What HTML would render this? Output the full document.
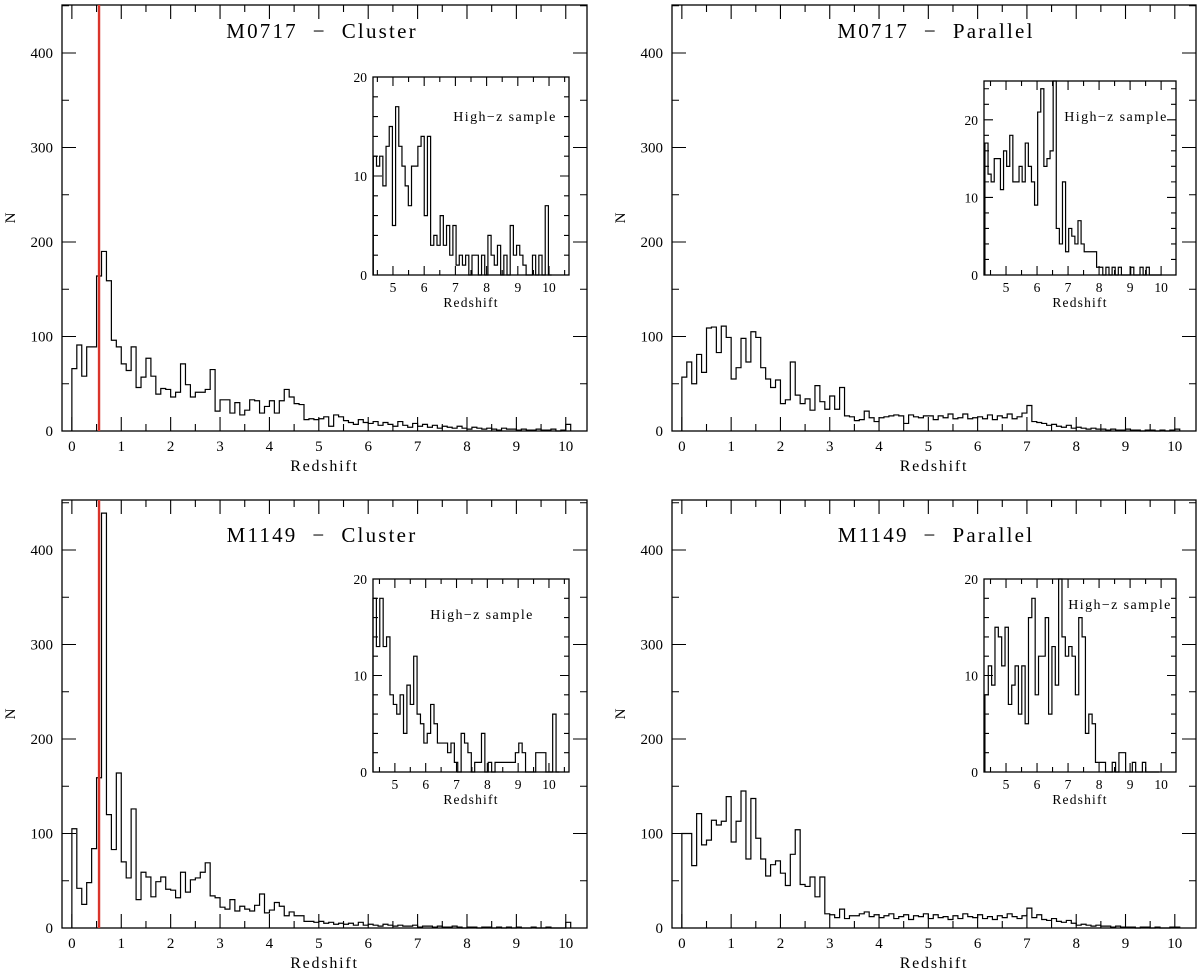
<!DOCTYPE html>
<html><head><meta charset="utf-8">
<style>
html,body{margin:0;padding:0;background:#fff;}
svg{display:block;}
text{font-family:"Liberation Serif","DejaVu Serif",serif;fill:#000;}
</style></head>
<body>
<svg id="fig" width="1200" height="972" viewBox="0 0 1200 972" xmlns="http://www.w3.org/2000/svg"></svg>
<script>
// ---- data (bins of 0.1 in redshift) ----
const mainBinWidth = 0.1;
const insetBinWidths = [0.102,0.1,0.11,0.108];
const xTicksMain = [0,1,2,3,4,5,6,7,8,9,10];
const yTicksMain = [0,100,200,300,400];
const xTicksInset = [5,6,7,8,9,10];
const clusterZ = 0.55;

const m0717ClusterCounts = [66,91,58,89,89,164,190,159,96,89,71,64,89,46,57,77,58,39,45,44,36,41,71,49,36,41,41,44,65,21,33,33,19,30,17,22,33,32,19,26,32,19,32,44,36,29,28,12,13,12,13,15,5,17,15,11,9,7,12,9,8,10,6,9,7,5,10,6,4,8,5,7,4,6,3,5,4,3,5,3,2,4,3,2,3,2,1,3,2,2,1,2,1,1,2,1,1,2,0,1,7];
const m0717ParallelCounts = [57,73,50,81,62,109,110,83,111,99,55,67,98,73,105,99,67,55,46,54,29,33,73,38,29,34,22,48,31,23,37,23,46,16,15,11,12,21,14,10,14,15,16,17,16,8,17,15,14,16,16,12,16,14,18,13,14,18,13,14,15,13,17,12,16,14,18,13,15,19,27,10,9,8,6,7,5,4,6,3,4,3,2,3,2,2,1,2,1,1,2,1,1,0,1,1,0,1,0,1,2];
const m1149ClusterCounts = [105,42,25,48,84,159,439,120,83,164,70,53,126,30,59,54,33,49,54,41,40,32,59,38,51,53,59,69,34,32,22,20,30,18,23,20,18,24,36,16,19,27,23,13,17,13,13,7,7,6,7,5,6,4,5,4,5,3,6,3,4,3,2,4,3,2,3,2,2,3,1,2,2,1,2,1,1,2,1,0,1,1,0,1,1,0,1,0,1,0,1,0,0,1,0,0,1,0,0,0,6];
const m1149ParallelCounts = [100,100,66,121,88,93,114,109,113,139,91,113,145,73,137,95,73,55,67,71,58,45,78,104,46,44,54,33,54,15,14,11,20,10,13,13,15,17,12,14,11,13,15,10,12,14,9,13,12,15,10,14,11,12,9,13,10,15,12,11,14,10,12,9,13,11,15,12,10,13,21,11,14,9,8,10,7,6,8,5,3,4,3,2,3,2,2,1,2,1,1,1,0,1,1,0,1,0,0,1,1];

const m0717ClusterInset = [12,11,12,9,13,15,5,17,13,11,9,7,11,11,13,14,6,14,3,4,3,6,3,5,2,5,1,2,1,2,0,2,2,0,2,0,4,2,1,3,0,2,0,5,2,3,2,1,0,0,2,0,2,0,7,0];
const m0717ParallelInset = [17,13,12,15,15,11,16,14,18,12,12,14,12,17,14,12,9,21,24,14,15,16,30,6,4,12,3,6,5,4,7,4,3,3,3,3,1,1,0,1,0,1,0,1,0,0,0,1,0,0,1,0,1,0,0,0,0];
const m1149ClusterInset = [18,13,18,13,14,8,7,6,8,4,9,7,12,6,5,3,4,7,5,3,3,3,2,3,1,0,4,3,2,0,1,1,4,0,1,0,1,1,1,1,1,1,2,3,2,0,0,0,2,2,2,0,0,6,0];
const m1149ParallelInset = [8,11,9,15,14,11,15,7,9,11,6,11,5,16,18,8,12,12,16,6,13,9,22,14,12,13,12,8,16,14,4,6,5,1,1,1,0,0,1,0,2,2,0,0,1,0,0,1,0,0,0,0];

const insetStarts = [4.37,4.32,4.29,4.32];

const svg = document.getElementById('fig');
const NS = 'http://www.w3.org/2000/svg';
function mk(tag, attrs, parent){
  const e = document.createElementNS(NS, tag);
  for (const k in attrs) e.setAttribute(k, attrs[k]);
  (parent||svg).appendChild(e);
  return e;
}

function drawAxes(g, box, xr, yr, xMajor, xMinor, yMajor, yMinor, majLen, minLen){
  const sx = v => box.x0 + (v - xr[0])/(xr[1]-xr[0])*(box.x1-box.x0);
  const sy = v => box.y1 - (v - yr[0])/(yr[1]-yr[0])*(box.y1-box.y0);
  const frame = mk('rect',{x:box.x0,y:box.y0,width:box.x1-box.x0,height:box.y1-box.y0,fill:'none',stroke:'#000','stroke-width':1.3},g);
  
  
  let d='';
  for (let v=Math.ceil(xr[0]/xMinor)*xMinor; v<=xr[1]+1e-9; v+=xMinor){
    const isMaj = Math.abs(v/xMajor - Math.round(v/xMajor))<1e-6;
    const L = isMaj?majLen:minLen, X=sx(v);
    d+=`M${X},${box.y1}v${-L}M${X},${box.y0}v${L}`;
  }
  for (let v=Math.ceil(yr[0]/yMinor)*yMinor; v<=yr[1]+1e-9; v+=yMinor){
    const isMaj = Math.abs(v/yMajor - Math.round(v/yMajor))<1e-6;
    const L = isMaj?majLen:minLen, Y=sy(v);
    d+=`M${box.x0},${Y}h${L}M${box.x1},${Y}h${-L}`;
  }
  const t = mk('path',{d:d,stroke:'#000','stroke-width':1.1,fill:'none'},g);
  
  
  return {sx, sy};
}

function drawHist(g, counts, start, bw, sx, sy, yMax, name){
  let d = `M${sx(start)},${sy(0)}`;
  counts.forEach((c,i)=>{
    const y = sy(Math.min(c,yMax));
    d += `L${sx(start+i*bw)},${y}L${sx(start+(i+1)*bw)},${y}`;
  });
  d += `L${sx(start+counts.length*bw)},${sy(0)}`;
  const p = mk('path',{d:d,fill:'none',stroke:'#000','stroke-width':1.2},g);
  
  
}

const panels = [
  {title:'M0717  \u2212  Cluster', counts:m0717ClusterCounts, inset:m0717ClusterInset, box:{x0:62,x1:587,y0:5,y1:431}, xr:[-0.2,10.43], tx:322, ty:38, red:true,
   ibox:{x0:373,x1:569,y0:77,y1:275}, ixr:[4.36,10.64], iyr:[0,20], iyt:[0,10,20], itx:505, ity:121, name:'m0717-cluster'},
  {title:'M0717  \u2212  Parallel', counts:m0717ParallelCounts, inset:m0717ParallelInset, box:{x0:672,x1:1196,y0:5,y1:431}, xr:[-0.2,10.43], tx:936, ty:38, red:false,
   ibox:{x0:984,x1:1176,y0:81,y1:275}, ixr:[4.29,10.48], iyr:[0,25], iyt:[0,10,20], itx:1116, ity:121, name:'m0717-parallel'},
  {title:'M1149  \u2212  Cluster', counts:m1149ClusterCounts, inset:m1149ClusterInset, box:{x0:62,x1:587,y0:500,y1:928}, xr:[-0.2,10.43], tx:322, ty:542, red:true,
   ibox:{x0:373,x1:569,y0:579,y1:772}, ixr:[4.29,10.65], iyr:[0,20], iyt:[0,10,20], itx:482, ity:619, name:'m1149-cluster'},
  {title:'M1149  \u2212  Parallel', counts:m1149ParallelCounts, inset:m1149ParallelInset, box:{x0:672,x1:1196,y0:500,y1:928}, xr:[-0.2,10.43], tx:936, ty:542, red:false,
   ibox:{x0:984,x1:1176,y0:579,y1:772}, ixr:[4.29,10.48], iyr:[0,20], iyt:[0,10,20], itx:1120, ity:609, name:'m1149-parallel'}
];

panels.forEach((P,pi)=>{
  const g = mk('g',{});
  
  
  const yMaxVal = (P.box.y1-P.box.y0)/0.945;
  const {sx, sy} = drawAxes(g, P.box, P.xr, [0,yMaxVal], 1, 0.5, 100, 50, 14, 7);
  drawHist(g, P.counts, 0, mainBinWidth, sx, sy, yMaxVal, P.name+'-histogram');
  if (P.red){
    const r = mk('line',{x1:sx(clusterZ),x2:sx(clusterZ),y1:P.box.y0,y2:P.box.y1,stroke:'#d9342b','stroke-width':2.4},g);
    
    
  }
  xTicksMain.forEach(v=>{
    const t = mk('text',{x:sx(v),y:P.box.y1+20,'text-anchor':'middle','font-size':15},g);
    t.textContent = v;
    
    
  });
  yTicksMain.forEach(v=>{
    const t = mk('text',{x:P.box.x0-9,y:sy(v)+5,'text-anchor':'end','font-size':15},g);
    t.textContent = v;
    
    
  });
  const xl = mk('text',{x:(P.box.x0+P.box.x1)/2,y:P.box.y1+40,'text-anchor':'middle','font-size':16,'letter-spacing':1.8},g);
  xl.textContent='Redshift';
  
  
  const cy=(P.box.y0+P.box.y1)/2;
  const yl = mk('text',{x:P.box.x0-47,y:cy,'text-anchor':'middle','font-size':15,transform:`rotate(-90 ${P.box.x0-47} ${cy})`},g);
  yl.textContent='N';
  
  
  const tt = mk('text',{x:P.tx,y:P.ty,'text-anchor':'middle','font-size':21,'letter-spacing':2.2,'xml:space':'preserve'},g);
  tt.setAttribute('style','white-space:pre');
  tt.textContent=P.title;
  
  

  // inset
  const ig = mk('g',{},g);
  
  
  const bg = mk('rect',{x:P.ibox.x0,y:P.ibox.y0,width:P.ibox.x1-P.ibox.x0,height:P.ibox.y1-P.ibox.y0,fill:'#fff'},ig);
  
  
  const ia = drawAxes(ig, P.ibox, P.ixr, P.iyr, 1, 0.5, 10, 2, 9, 5);
  drawHist(ig, P.inset, insetStarts[pi], insetBinWidths[pi], ia.sx, ia.sy, P.iyr[1], P.name+'-inset-histogram');
  xTicksInset.forEach(v=>{
    const t = mk('text',{x:ia.sx(v),y:P.ibox.y1+17,'text-anchor':'middle','font-size':13.5},ig);
    t.textContent=v;
    
    
  });
  P.iyt.forEach(v=>{
    const t = mk('text',{x:P.ibox.x0-6,y:ia.sy(v)+5,'text-anchor':'end','font-size':13.5},ig);
    t.textContent=v;
    
    
  });
  const ixl = mk('text',{x:(P.ibox.x0+P.ibox.x1)/2,y:P.ibox.y1+32,'text-anchor':'middle','font-size':13.5,'letter-spacing':1.2},ig);
  ixl.textContent='Redshift';
  
  
  const lab = mk('text',{x:P.itx,y:P.ity,'text-anchor':'middle','font-size':14,'letter-spacing':1.4},ig);
  lab.textContent='High\u2212z sample';
  
  
});
</script>
</body></html>
